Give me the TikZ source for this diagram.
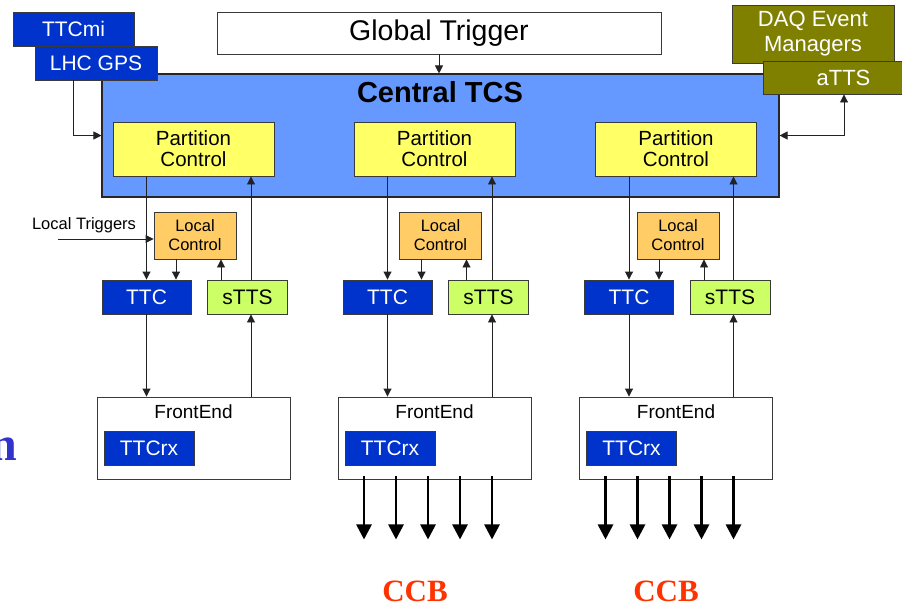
\documentclass[tikz,border=0pt]{standalone}
\usepackage{fontspec}
\setmainfont{Liberation Sans}
\newfontfamily\titleserif{Liberation Serif}
\usetikzlibrary{arrows.meta,calc}

\definecolor{tcsblue}{HTML}{6699FF}
\definecolor{pcyellow}{HTML}{FFFF66}
\definecolor{lcorange}{HTML}{FFCC66}
\definecolor{sttsgreen}{HTML}{CCFF66}
\definecolor{ttcblue}{HTML}{0033CC}
\definecolor{daqolive}{HTML}{808000}
\definecolor{ccbred}{HTML}{FF3300}
\definecolor{titleblue}{HTML}{3333CC}
\definecolor{boxline}{HTML}{3A3A3A}
\definecolor{wireline}{HTML}{222222}

\newcommand\fsz[2]{\fontsize{#1}{#2}\selectfont}

\begin{document}
\begin{tikzpicture}[x=1pt,y=-1pt,
  box/.style={draw=boxline, line width=0.9pt, inner sep=0pt, align=center, text=black},
  bluebox/.style={box, fill=ttcblue, text=white, font=\fsz{21}{23}},
  olivebox/.style={box, fill=daqolive, text=white, font=\fsz{22}{25}},
  pcbox/.style={box, fill=pcyellow, minimum width=161, minimum height=54, font=\fsz{20.5}{21}},
  lcbox/.style={box, fill=lcorange, minimum width=82, minimum height=47, font=\fsz{16.5}{19}},
  ttcbox/.style={bluebox, minimum width=89, minimum height=34},
  sttsbox/.style={box, fill=sttsgreen, minimum width=80, minimum height=34, font=\fsz{21}{23}},
  febox/.style={box, fill=white, minimum width=193, minimum height=82},
  rxbox/.style={bluebox, minimum width=90, minimum height=34},
  wire/.style={draw=wireline, line width=0.9pt, -{Triangle[length=8pt,width=8pt]}},
  wireboth/.style={draw=wireline, line width=0.9pt, {Triangle[length=8pt,width=8pt]}-{Triangle[length=8pt,width=8pt]}},
  fatwire/.style={draw=black, line width=2.8pt, -{Triangle[length=15pt,width=15pt]}},
  ccblabel/.style={font=\titleserif\bfseries\fsz{31}{33}, text=ccbred, inner sep=0pt, anchor=base}
]
\useasboundingbox (0,0) rectangle (902,606);
\clip (0,0) rectangle (902,606);

% partly visible title letter at the left edge
\node[font=\titleserif\bfseries\fsz{48}{50}, text=titleblue, inner sep=0pt, anchor=base east] (titlechar) at (17,460) {n};

% central trigger control system
\node[box, fill=tcsblue, draw=black!85, line width=1.1pt, minimum width=677, minimum height=123] (tcs) at (440.5,135.5) {};
\node[font=\fsz{29}{31}\bfseries, inner sep=0pt] (tcslabel) at (440,92.5) {Central TCS};

% global trigger
\node[box, fill=white, minimum width=444, minimum height=42, font=\fsz{28.5}{30}] (gt) at (439,33) {\raisebox{-2pt}{Global Trigger}};

% clock sources
\node[bluebox, minimum width=121, minimum height=34] (ttcmi) at (73.5,29) {TTCmi};
\node[bluebox, minimum width=122, minimum height=34] (lhc) at (96,63) {LHC GPS};

% DAQ side
\node[olivebox, minimum width=162, minimum height=58] (daq) at (813,34) {DAQ Event\\Managers};
\node[olivebox, minimum width=139, minimum height=33] (atts) at (832.5,77.5) {\hspace*{22pt}aTTS};

% top-level connections
\draw[wire] (gt.south) -- (gt.south |- tcs.north);
\draw[wire] ([xshift=-23pt]lhc.south) |- (tcs.west);
\draw[wireboth] (tcs.east) -| ([xshift=11.5pt]atts.south);

% one partition per column
\foreach \i/\dx/\lx in {1/0/0, 2/241/245.5, 3/482.5/483}{
  \node[pcbox] (pc\i) at (193.5+\dx,149) {Partition\\Control};
  \node[lcbox] (lc\i) at (195+\lx,235.5) {Local\\Control};
  \node[ttcbox] (ttc\i) at (146.5+\dx,297) {TTC};
  \node[sttsbox] (stts\i) at (247.5+\dx,297) {sTTS};
  \node[febox] (fe\i) at (193.5+\dx,438) {};
  \node[font=\fsz{19}{21}, inner sep=0pt, anchor=base] (fel\i) at (193.5+\dx,418) {FrontEnd};
  \node[rxbox] (rx\i) at (149+\dx,448) {TTCrx};

  \draw[wire] (ttc\i.north |- pc\i.south) -- (ttc\i.north);
  \draw[wire] ([xshift=-19pt]lc\i.south) -- ([xshift=-19pt]lc\i.south |- ttc\i.north);
  \draw[wire] ([xshift=26pt]lc\i.south |- stts\i.north) -- ([xshift=26pt]lc\i.south);
  \draw[wire] ([xshift=3.5pt]stts\i.north) -- ([xshift=3.5pt]stts\i.north |- pc\i.south);
  \draw[wire] (ttc\i.south) -- (ttc\i.south |- fe\i.north);
  \draw[wire] ([xshift=3.5pt]stts\i.south |- fe\i.north) -- ([xshift=3.5pt]stts\i.south);
}

% local trigger input
\node[font=\fsz{16.5}{18}, inner sep=0pt] (ltlabel) at (84,225) {Local Triggers};
\coordinate (ltin) at (58,239);
\draw[wire] (ltin) -- (ltin -| lc1.west);

% outputs to the CCB
\foreach \i in {2,3}{
  \foreach \k in {0,...,4}{
    \draw[fatwire] ([xshift=-70.5pt+32*\k pt, yshift=3pt]fe\i.south) -- ++(0,63);
  }
}
\node[ccblabel] (ccb2) at (415,601) {CCB};
\node[ccblabel] (ccb3) at (666,601) {CCB};
\end{tikzpicture}
\end{document}
